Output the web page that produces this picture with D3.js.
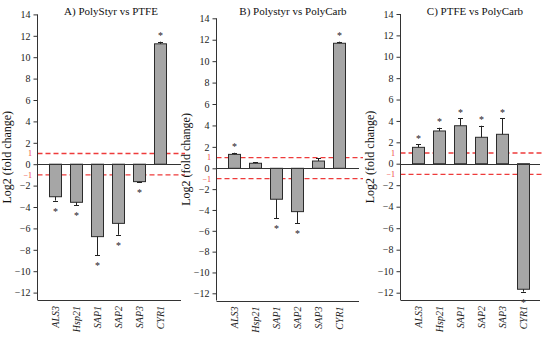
<!DOCTYPE html>
<html>
<head>
<meta charset="utf-8">
<script src="https://cdn.jsdelivr.net/npm/d3@7"></script>
<style>
  html, body { margin: 0; padding: 0; background: #fff; }
  svg { display: block; font-family: "Liberation Serif", "DejaVu Serif", serif; }
</style>
</head>
<body>
<svg id="chart" width="550" height="337"></svg>
<script>
// ---------- data ----------
const genes = ["ALS3", "Hsp21", "SAP1", "SAP2", "SAP3", "CYR1"];
const titles = ["A) PolyStyr vs PTFE", "B) Polystyr vs PolyCarb", "C) PTFE vs PolyCarb"];

const valuesA = [-3.04, -3.56, -6.77, -5.53, -1.63, 11.25];
const errorsA = [0.36, 0.29, 1.73, 1.07, 0.07, 0.2];
const sigA    = [true, true, true, true, true, true];

const valuesB = [1.3, 0.47, -2.97, -4.16, 0.68, 11.67];
const errorsB = [0.15, 0.09, 1.83, 1.12, 0.25, 0.15];
const sigB    = [true, false, true, true, false, true];

const valuesC = [1.53, 3.06, 3.55, 2.47, 2.75, -11.68];
const errorsC = [0.31, 0.3, 0.69, 1.08, 1.49, 0.22];
const sigC    = [true, true, true, true, true, true];

const yTicks = [14, 12, 10, 8, 6, 4, 2, 0, -2, -4, -6, -8, -10, -12];
const thresholds = [1, -1];
const yLabel = "Log2 (fold change)";

// ---------- layout ----------
const panels = [
  { title: titles[0], values: valuesA, errors: errorsA, sig: sigA,
    axisX: 37, width: 144, yTop: 14.4, yZero: 164.2, yM12: 292.6, bottom: 300, titleX: 111 },
  { title: titles[1], values: valuesB, errors: errorsB, sig: sigB,
    axisX: 216, width: 143, yTop: 18.3, yZero: 168.3, yM12: 293.3, bottom: 300.5, titleX: 293 },
  { title: titles[2], values: valuesC, errors: errorsC, sig: sigC,
    axisX: 400, width: 140, yTop: 14, yZero: 163.7, yM12: 292.7, bottom: 300, titleX: 475 }
];

const svg = d3.select("#chart");
const axisColor = "#333";
const red = "#ee3b3b";
const crisp = v => Math.round(v) + 0.5;

panels.forEach(p => {
  const g = svg.append("g");
  const y = d3.scaleLinear().domain([14, 0, -12]).range([p.yTop, p.yZero, p.yM12]);
  const x = d3.scaleBand().domain(genes)
    .range([p.axisX + 7.5, p.axisX + 7.5 + 126])
    .paddingInner(0.44).paddingOuter(0.22);
  const right = p.axisX + p.width;
  const ax = crisp(p.axisX);

  // title
  g.append("text").attr("x", p.titleX).attr("y", 15)
    .attr("text-anchor", "middle").attr("font-size", 11).attr("fill", "#111")
    .text(p.title);

  // y label
  g.append("text")
    .attr("transform", `translate(${p.axisX - 26},${(p.yTop + p.bottom) / 2}) rotate(-90)`)
    .attr("text-anchor", "middle").attr("font-size", 12).attr("fill", "#111")
    .text(yLabel);

  // threshold dashed lines
  g.selectAll("line.thr").data(thresholds).join("line")
    .attr("class", "thr")
    .attr("x1", ax).attr("x2", right + 4)
    .attr("y1", d => y(d)).attr("y2", d => y(d))
    .attr("stroke", red).attr("stroke-width", 1.3)
    .attr("stroke-dasharray", "5,3");
  g.selectAll("text.thr").data(thresholds).join("text")
    .attr("class", "thr")
    .attr("x", p.axisX - 5).attr("y", d => y(d))
    .attr("dy", "0.35em").attr("text-anchor", "end")
    .attr("font-size", 8).attr("fill", red)
    .text(d => d3.format("")(d));

  // bars
  const data = genes.map((gname, i) => ({ gene: gname, v: p.values[i], e: p.errors[i], s: p.sig[i] }));
  g.selectAll("rect.bar").data(data).join("rect")
    .attr("class", "bar")
    .attr("x", d => crisp(x(d.gene))).attr("width", Math.round(x.bandwidth()))
    .attr("y", d => Math.min(y(d.v), y(0)))
    .attr("height", d => Math.abs(y(d.v) - y(0)))
    .attr("fill", "#a6a6a6").attr("stroke", "#2b2b2b").attr("stroke-width", 1);

  // error bars (one-sided)
  const errEnd = d => d.v >= 0 ? d.v + d.e : d.v - d.e;
  const cx = d => crisp(x(d.gene) + x.bandwidth() / 2);
  g.selectAll("line.err").data(data).join("line")
    .attr("class", "err")
    .attr("x1", cx).attr("x2", cx)
    .attr("y1", d => y(d.v)).attr("y2", d => y(errEnd(d)))
    .attr("stroke", "#222").attr("stroke-width", 1);
  g.selectAll("line.cap").data(data).join("line")
    .attr("class", "cap")
    .attr("x1", d => cx(d) - 2.5).attr("x2", d => cx(d) + 2.5)
    .attr("y1", d => crisp(y(errEnd(d)))).attr("y2", d => crisp(y(errEnd(d))))
    .attr("stroke", "#222").attr("stroke-width", 1);

  // significance stars
  g.selectAll("text.star").data(data.filter(d => d.s)).join("text")
    .attr("class", "star")
    .attr("x", cx)
    .attr("y", d => d.v >= 0 ? y(errEnd(d)) - 2.5 : y(errEnd(d)) + 14)
    .attr("text-anchor", "middle").attr("font-size", 10).attr("fill", "#222")
    .text("*");

  // zero line
  g.append("line").attr("x1", ax).attr("x2", right)
    .attr("y1", crisp(y(0))).attr("y2", crisp(y(0)))
    .attr("stroke", axisColor).attr("stroke-width", 1);

  // y axis
  const yAxis = d3.axisLeft(y).tickValues(yTicks).tickSize(4).tickPadding(3);
  const ag = g.append("g").attr("transform", `translate(${ax},0)`).call(yAxis);
  ag.select(".domain").remove();
  ag.selectAll(".tick line").attr("stroke", axisColor);
  ag.selectAll(".tick text").attr("font-size", 10).attr("fill", "#222")
    .attr("font-family", "Liberation Serif, serif");
  g.append("line").attr("x1", ax).attr("x2", ax)
    .attr("y1", y(14)).attr("y2", p.bottom)
    .attr("stroke", axisColor).attr("stroke-width", 1);

  // x axis line
  g.append("line").attr("x1", ax).attr("x2", right)
    .attr("y1", crisp(p.bottom)).attr("y2", crisp(p.bottom))
    .attr("stroke", axisColor).attr("stroke-width", 1);

  // x labels (rotated, italic)
  g.selectAll("text.xl").data(genes).join("text")
    .attr("class", "xl")
    .attr("transform", d => `translate(${x(d) + x.bandwidth() / 2},${p.bottom + 6}) rotate(-90)`)
    .attr("text-anchor", "end").attr("dy", "0.35em")
    .attr("font-size", 10).attr("font-style", "italic").attr("fill", "#222")
    .text(d => d);
});
</script>
</body>
</html>
